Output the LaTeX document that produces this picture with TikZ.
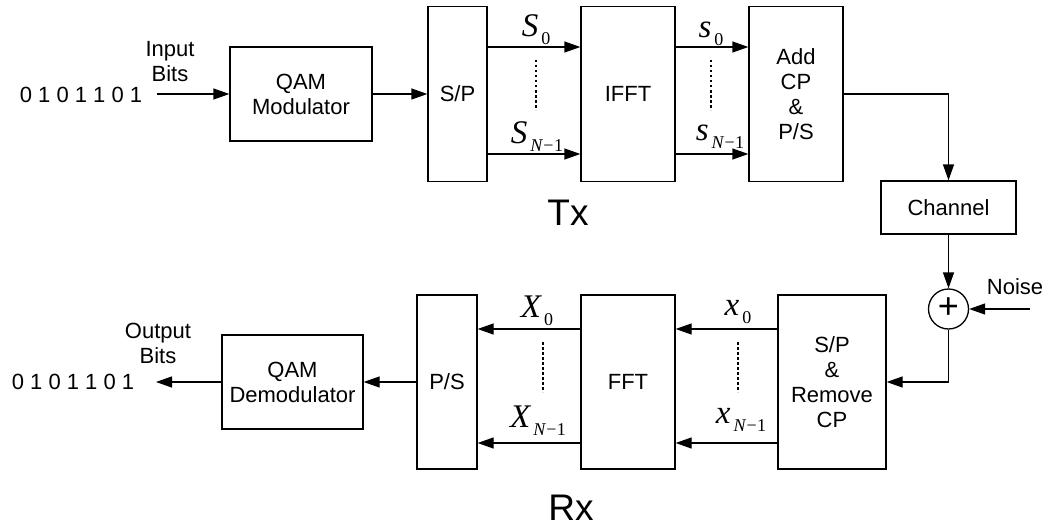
\documentclass[tikz,border=0pt]{standalone}
\usepackage{fontspec}
\setmainfont{Liberation Sans}
\newfontfamily\serifit{Liberation Serif}
\usetikzlibrary{arrows.meta}
\newcommand\mlab[2]{{\serifit\fontsize{33}{33}\selectfont{\itshape #1}\kern3pt\raisebox{-8pt}{\fontsize{18}{18}\selectfont\upshape #2}}}
\newcommand\nmo{{\itshape N}\kern1pt\char"2212\kern0.5pt 1}
\begin{document}
\begin{tikzpicture}[x=1pt,y=-1pt,
  blk/.style={draw, line width=1.3pt, inner sep=0pt, font=\fontsize{22}{25}\selectfont, align=center},
  arr/.style={line width=1.3pt, -{Triangle[length=16pt,width=11pt]}},
  dots/.style={line width=2.2pt, dash pattern=on 2.5pt off 2.5pt},
  txt/.style={font=\fontsize{22}{25}\selectfont, align=center, inner sep=0pt},
  big/.style={font=\fontsize{37}{40}\selectfont, inner sep=0pt},
  mlabel/.style={inner sep=0pt}]
\useasboundingbox (0,0) rectangle (1047,527);
% Tx boxes
\node[blk, minimum width=142pt, minimum height=94pt] (qam) at (301,94) {QAM\\Modulator};
\node[blk, minimum width=59pt, minimum height=175pt] (sp) at (457.5,94) {S/P};
\node[blk, minimum width=94pt, minimum height=175pt] (ifft) at (628,94) {IFFT};
\node[blk, minimum width=94pt, minimum height=175pt] (addcp) at (796,94) {Add\\CP\\\&\\P/S};
\node[blk, minimum width=135pt, minimum height=53pt] (chan) at (948.5,207.5) {Channel};
\node[blk, circle, minimum size=40pt] (sum) at (948.5,309) {\fontsize{36}{36}\selectfont\raisebox{1pt}{+}};
% Rx boxes
\node[blk, minimum width=108pt, minimum height=174pt] (rcp) at (832,382) {S/P\\\&\\Remove\\CP};
\node[blk, minimum width=94pt, minimum height=174pt] (fft) at (628,382) {FFT};
\node[blk, minimum width=60pt, minimum height=174pt] (ps) at (447,382) {P/S};
\node[blk, minimum width=141pt, minimum height=94pt] (demod) at (292.5,382) {QAM\\Demodulator};
% texts
\node[txt] (bitsin) at (81,95) {0 1 0 1 1 0 1};
\node[txt] (inlab) at (170,62) {Input\\Bits};
\node[txt] (bitsout) at (73,382) {0 1 0 1 1 0 1};
\node[txt] (outlab) at (158,343) {Output\\Bits};
\node[txt] (noiselab) at (1015,287) {Noise};
\node[big] (tx) at (568,213) {Tx};
\node[big] (rx) at (571,508) {Rx};
% math labels
\node[mlabel] (S0) at (536,30) {\mlab{S}{0}};
\node[mlabel] (SN) at (537,137) {\mlab{S}{\nmo}};
\node[mlabel] (s0) at (711,34) {\mlab{s}{0}};
\node[mlabel] (sN) at (720,137) {\mlab{s}{\nmo}};
\node[mlabel] (X0) at (537,311) {\mlab{X}{0}};
\node[mlabel] (XN) at (538,421) {\mlab{X}{\nmo}};
\node[mlabel] (x0) at (738,312) {\mlab{x}{0}};
\node[mlabel] (xN) at (741,420) {\mlab{x}{\nmo}};
% free ends
\coordinate (inend) at (157,94);
\coordinate (outend) at (156,382);
\coordinate (noiseend) at (1030,309);
% connectors Tx
\draw[arr] (inend) -- (qam.west);
\draw[arr] (qam.east) -- (sp.west);
\draw[arr] (sp.east |- 0,47) -- (ifft.west |- 0,47);
\draw[arr] (sp.east |- 0,154) -- (ifft.west |- 0,154);
\draw[arr] (ifft.east |- 0,47) -- (addcp.west |- 0,47);
\draw[arr] (ifft.east |- 0,154) -- (addcp.west |- 0,154);
\draw[arr] (addcp.east) -| (chan.north);
\draw[arr] (chan.south) -- (sum.north);
\draw[arr] (noiseend) -- (sum.east);
\draw[arr] (sum.south) |- (rcp.east);
% connectors Rx
\draw[arr] (rcp.west |- 0,329) -- (fft.east |- 0,329);
\draw[arr] (rcp.west |- 0,443) -- (fft.east |- 0,443);
\draw[arr] (fft.west |- 0,329) -- (ps.east |- 0,329);
\draw[arr] (fft.west |- 0,443) -- (ps.east |- 0,443);
\draw[arr] (ps.west) -- (demod.east);
\draw[arr] (demod.west) -- (outend);
% dotted lines
\draw[dots] (536,60) -- (536,110);
\draw[dots] (711,60) -- (711,110);
\draw[dots] (543,342) -- (543,392);
\draw[dots] (738,342) -- (738,392);
\end{tikzpicture}
\end{document}
